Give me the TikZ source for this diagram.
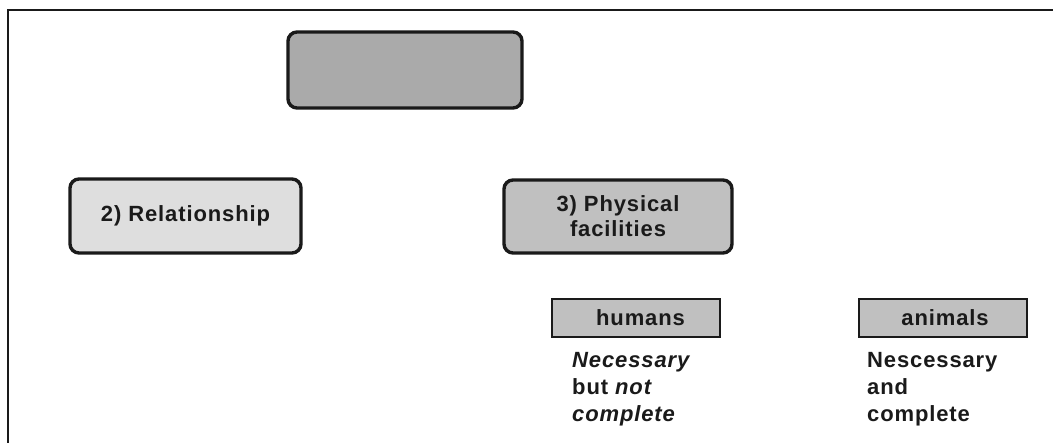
\documentclass[tikz,border=0pt]{standalone}
\usepackage{fontspec}
\setmainfont{Liberation Sans}[LetterSpace=4]
\definecolor{ink}{HTML}{1A1A1A}
\definecolor{darkfill}{HTML}{AAAAAA}
\definecolor{midfill}{HTML}{C0C0C0}
\definecolor{lightfill}{HTML}{DEDEDE}
\tikzset{
  roundbox/.style={draw=ink, line width=3.4pt, rounded corners=9pt, inner sep=0pt,
    align=center, text=ink, font=\fontsize{22}{25}\selectfont\bfseries},
  smallbox/.style={draw=ink, line width=2.5pt, fill=midfill, inner sep=0pt,
    minimum width=168pt, minimum height=38pt, text=ink,
    font=\fontsize{22}{25}\selectfont\bfseries},
  note/.style={anchor=base west, inner sep=0pt, text=ink,
    font=\fontsize{22}{25}\selectfont\bfseries}
}
\begin{document}
\begin{tikzpicture}[x=1pt,y=-1pt]
\useasboundingbox (0,0) rectangle (1053,443);
\fill[white] (0,0) rectangle (1053,443);
% frame (open at right and bottom)
\coordinate (fbl) at (8,450);
\coordinate (ftl) at (8,10);
\coordinate (ftr) at (1060,10);
\draw[ink, line width=2.3pt] (fbl) -- (ftl) -- (ftr);

\node[roundbox, fill=darkfill, minimum width=234pt, minimum height=76pt] (top) at (405,70) {};
\node[roundbox, fill=lightfill, minimum width=231pt, minimum height=74pt] (rel) at (185.5,216) {2) Relationship};
\node[roundbox, fill=midfill, minimum width=228pt, minimum height=73pt] (phys) at (618,216.5) {3) Physical\\facilities};

\node[smallbox] (humans) at (636,318) {\hspace*{9pt}humans};
\node[smallbox] (animals) at (943,318) {\hspace*{4pt}animals};

\node[note] (h1) at (572,368) {\itshape Necessary};
\node[note] (h2) at (572,395) {but \itshape not};
\node[note] (h3) at (572,422) {\itshape complete};

\node[note] (a1) at (867,368) {Nescessary};
\node[note] (a2) at (867,395) {and};
\node[note] (a3) at (867,422) {complete};
\end{tikzpicture}
\end{document}
